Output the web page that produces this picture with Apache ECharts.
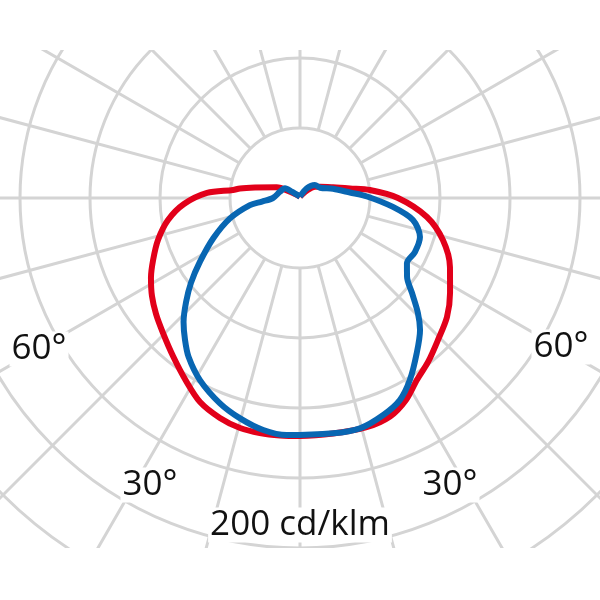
<!DOCTYPE html>
<html>
<head>
<meta charset="utf-8">
<script src="https://cdn.jsdelivr.net/npm/echarts@6/dist/echarts.min.js"></script>
<style>
html,body{margin:0;padding:0;background:#ffffff;}
#chart{width:600px;height:600px;}
</style>
</head>
<body>
<div id="chart"></div>
<script>
// Gamma angles (deg, 0 = nadir, negative = left half) and intensities (cd/klm)
const redAngles  = [-180,-122,-114.7,-103,-99,-96.8,-93.1,-87,-80.5,-73.5,-67.1,-61.8,-56.5,-51.1,-45.4,-38.8,-31.9,-26.1,-20,-14.6,-9.7,-4.8,0,8,16.2,22.4,27.7,32.7,38,44.2,51,57.7,65.3,73.6,81.5,90,96.5,100.8,108,119.5,127,137.5,180];
const redValues  = [1,8.4,18.3,33,43.4,48.2,66.5,83,95.6,105.8,113.9,120.8,126.8,132.1,137.4,144.8,154,162.3,167.2,169.8,170.3,170.2,170,169.9,170.5,168.8,162.9,154.5,148.6,141.4,135.1,126.8,117.9,106.4,91.7,70,50.3,36.4,24.8,16.4,13.4,7.1,1];

const blueAngles = [-180,-127.2,-122.9,-107.5,-90,-84.7,-82,-73.8,-65.1,-57.5,-52.1,-47.6,-43.2,-39,-35,-28.8,-21.3,-15.2,-9,-3.2,8,14.6,21,26.3,31.1,36.9,42.3,45.7,49.7,53.6,58.7,64.8,72,79,84.5,91.3,96.3,105.6,117.2,131,145,180];
const blueValues = [1,7.4,12.8,15,19.3,27.3,36.1,52.1,68.3,84.7,98.7,110.2,121.5,130.5,138.7,148.4,157.4,163.1,167.8,169.6,169.7,170,166,161,151.9,138.8,127.4,117.7,104.9,95,89.4,90.7,90.1,82.2,66.7,47.9,35.9,24.5,16.1,14.1,8.4,1];

const ringStep = 50;              // cd/klm per ring
const ringMin = 50, ringMax = 350;
const angleStep = 15;
const angleLabels = ['60°','60°','30°','30°'];
const unitLabel = '200 cd/klm';

const gridColor = '#d4d4d4';
const toPairs = (vals, angs) => vals.map((v, i) => [v, angs[i]]);

const chart = echarts.init(document.getElementById('chart'), null, {renderer: 'canvas'});
const textStyle = (txt) => ({
  text: txt,
  font: '35px "Open Sans"',
  fill: '#111111',
  align: 'center',
  verticalAlign: 'middle',
  backgroundColor: '#ffffff',
  padding: [0, 2]
});

chart.setOption({
  animation: false,
  backgroundColor: '#ffffff',
  polar: [
    {center: [300, 198], radius: [70, 490]},
    {center: [300, 198], radius: [0, 490]}
  ],
  angleAxis: [
    {
      polarIndex: 0, type: 'value', min: -180, max: 180, interval: angleStep,
      startAngle: 90, clockwise: false,
      axisLine: {show: false}, axisTick: {show: false}, axisLabel: {show: false},
      splitLine: {show: true, lineStyle: {color: gridColor, width: 3}}
    },
    {
      polarIndex: 1, type: 'value', min: -180, max: 180,
      startAngle: 90, clockwise: false, show: false
    }
  ],
  radiusAxis: [
    {
      polarIndex: 0, type: 'value', min: ringMin, max: ringMax, interval: ringStep,
      axisLine: {show: false}, axisTick: {show: false}, axisLabel: {show: false},
      splitLine: {show: true, lineStyle: {color: gridColor, width: 3}}
    },
    {polarIndex: 1, type: 'value', min: 0, max: ringMax, show: false}
  ],
  series: [
    {
      type: 'line', coordinateSystem: 'polar', polarIndex: 1,
      data: toPairs(redValues, redAngles),
      showSymbol: false, smooth: 0.3, z: 3,
      lineStyle: {color: '#e2001a', width: 6}
    },
    {
      type: 'line', coordinateSystem: 'polar', polarIndex: 1,
      data: toPairs(blueValues, blueAngles),
      showSymbol: false, smooth: 0.3, z: 4,
      lineStyle: {color: '#0866b2', width: 6}
    }
  ],
  graphic: [
    {type: 'rect', shape: {x: 0, y: 0, width: 600, height: 50}, style: {fill: '#ffffff'}, z: 10, silent: true},
    {type: 'rect', shape: {x: 0, y: 548, width: 600, height: 52}, style: {fill: '#ffffff'}, z: 10, silent: true},
    {type: 'text', x: 39, y: 349, style: textStyle(angleLabels[0]), z: 20},
    {type: 'text', x: 561, y: 347, style: textStyle(angleLabels[1]), z: 20},
    {type: 'text', x: 150, y: 485, style: textStyle(angleLabels[2]), z: 20},
    {type: 'text', x: 450, y: 485, style: textStyle(angleLabels[3]), z: 20},
    {type: 'text', x: 300, y: 525, style: textStyle(unitLabel), z: 20}
  ]
});
</script>
</body>
</html>
